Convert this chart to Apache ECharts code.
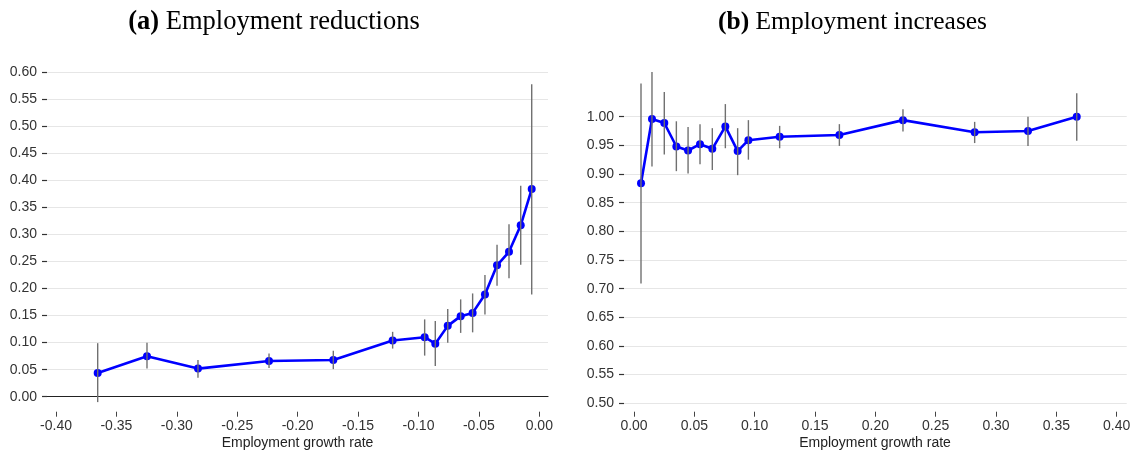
<!DOCTYPE html>
<html>
<head>
<meta charset="utf-8">
<script src="https://cdn.jsdelivr.net/npm/echarts@6/dist/echarts.min.js"></script>
<style>
html,body{margin:0;padding:0;background:#fff;}
#chart{width:1135px;height:450px;}
</style>
</head>
<body>
<div id="chart"></div>
<script>
// ---- Panel (a): Employment reductions ----
const redX  = [-0.3655, -0.3247, -0.2825, -0.2237, -0.1705, -0.1214, -0.0949, -0.0861, -0.0758, -0.0651, -0.0552, -0.0450, -0.0350, -0.0251, -0.0154, -0.0063];
const redY  = [0.044, 0.075, 0.052, 0.066, 0.068, 0.104, 0.110, 0.098, 0.131, 0.149, 0.155, 0.189, 0.243, 0.268, 0.317, 0.384];
const redLo = [-0.010, 0.052, 0.035, 0.053, 0.051, 0.089, 0.076, 0.057, 0.100, 0.118, 0.119, 0.152, 0.205, 0.219, 0.244, 0.189];
const redHi = [0.099, 0.100, 0.068, 0.080, 0.085, 0.120, 0.143, 0.140, 0.162, 0.180, 0.191, 0.225, 0.281, 0.319, 0.390, 0.578];

// ---- Panel (b): Employment increases ----
const incX  = [0.0058, 0.0149, 0.0251, 0.0351, 0.0448, 0.0547, 0.0649, 0.0757, 0.0859, 0.0948, 0.1207, 0.1702, 0.2229, 0.2823, 0.3265, 0.3669];
const incY  = [0.884, 0.996, 0.989, 0.948, 0.941, 0.952, 0.944, 0.983, 0.940, 0.959, 0.965, 0.968, 0.994, 0.973, 0.975, 1.000];
const incLo = [0.709, 0.913, 0.934, 0.905, 0.901, 0.917, 0.907, 0.945, 0.898, 0.925, 0.945, 0.949, 0.974, 0.954, 0.949, 0.958];
const incHi = [1.058, 1.078, 1.043, 0.992, 0.982, 0.987, 0.980, 1.022, 0.980, 0.994, 0.984, 0.987, 1.013, 0.991, 1.000, 1.041];

// tick labels
const redTicks = ['-0.40','-0.35','-0.30','-0.25','-0.20','-0.15','-0.10','-0.05','0.00'];
const incTicks = ['0.00','0.05','0.10','0.15','0.20','0.25','0.30','0.35','0.40'];

const SANS = '"Liberation Sans", Arial, Helvetica, sans-serif';
const SERIF = '"Liberation Serif", "Times New Roman", serif';
const labelColor = '#333';
const gridColor = '#e6e6e6';

function pairs(xs, ys){ return xs.map((x,i)=>[x, ys[i]]); }
function errData(xs, lo, hi){ return xs.map((x,i)=>[x, lo[i], hi[i]]); }

function errSeries(xi, yi, data){
  return {
    type: 'custom', xAxisIndex: xi, yAxisIndex: yi, clip: false, z: 5,
    data: data,
    encode: {x: 0, y: [1,2]},
    renderItem: function(params, api){
      const a = api.coord([api.value(0), api.value(1)]);
      const b = api.coord([api.value(0), api.value(2)]);
      return {type:'line', shape:{x1:a[0], y1:a[1], x2:b[0], y2:b[1]},
              style:{stroke:'#707070', lineWidth:1.4}};
    }
  };
}
function lineSeries(xi, yi, data){
  return {
    type: 'line', xAxisIndex: xi, yAxisIndex: yi, clip: false, z: 3,
    data: data, symbol: 'circle', symbolSize: 8, showSymbol: true,
    lineStyle: {color:'#0000ff', width: 2.6},
    itemStyle: {color:'#0000ff'},
    animation: false
  };
}

const chart = echarts.init(document.getElementById('chart'), null, {renderer:'canvas'});

const tickAxisLabel = (list, lo) => ({
  show: true, color: labelColor, fontFamily: SANS, fontSize: 14, margin: 7,
  formatter: v => { const i = Math.round((v - lo)/0.05); return list[i] !== undefined ? list[i] : ''; }
});

const titleStyle = (size) => ({fontFamily: SERIF, fontSize: size, fontWeight: 'normal', color: '#000',
  rich: {b: {fontFamily: SERIF, fontSize: size, fontWeight: 'bold', color: '#000'}}});

const option = {
  animation: false,
  backgroundColor: '#fff',
  title: [
    {text: '{b|(a)} Employment reductions', left: 269, top: 4, textAlign: 'center', textStyle: titleStyle(26.5)},
    {text: '{b|(b)} Employment increases', left: 847.5, top: 4, textAlign: 'center', textStyle: titleStyle(25.5)}
  ],
  grid: [
    {left: 47, width: 501, top: 72.3, height: 324.4},
    {left: 56, width: 483.3, top: 72.3, height: 324.4},
    {left: 624, width: 502.7, top: 116.7, height: 286.6},
    {left: 634, width: 482.7, top: 116.7, height: 286.6}
  ],
  xAxis: [
    {type:'value', gridIndex:0, min:-0.40745, max:0.00718,
     axisLine:{show:true, onZero:false, lineStyle:{color:'#222', width:1.2}},
     axisTick:{show:false}, axisLabel:{show:false}, splitLine:{show:false}},
    {type:'value', gridIndex:1, min:-0.40, max:0, interval:0.05, offset:15,
     axisLine:{show:false, onZero:false}, axisTick:{show:true, length:5, lineStyle:{color:'#444', width:1}},
     axisLabel: tickAxisLabel(redTicks, -0.40), splitLine:{show:false}},
    {type:'value', gridIndex:2, min:-0.00829, max:0.4083,
     axisLine:{show:false, onZero:false}, axisTick:{show:false}, axisLabel:{show:false}, splitLine:{show:false}},
    {type:'value', gridIndex:3, min:0, max:0.40, interval:0.05, offset:8.4,
     axisLine:{show:false, onZero:false}, axisTick:{show:true, length:5, lineStyle:{color:'#444', width:1}},
     axisLabel: tickAxisLabel(incTicks, 0), splitLine:{show:false}}
  ],
  yAxis: [
    {type:'value', gridIndex:0, min:0, max:0.60, interval:0.05, position:'left',
     axisLine:{show:false, onZero:false}, axisTick:{show:true, length:5, lineStyle:{color:'#333', width:1.2}},
     axisLabel:{color:labelColor, fontFamily:SANS, fontSize:14, margin:10, formatter: v => v.toFixed(2)},
     splitLine:{show:true, lineStyle:{color:gridColor, width:1.2}}},
    {type:'value', gridIndex:1, min:0, max:0.60, show:false, axisLine:{onZero:false}},
    {type:'value', gridIndex:2, min:0.50, max:1.00, interval:0.05, position:'left',
     axisLine:{show:false, onZero:false}, axisTick:{show:true, length:5, lineStyle:{color:'#333', width:1.2}},
     axisLabel:{color:labelColor, fontFamily:SANS, fontSize:14, margin:10, formatter: v => v.toFixed(2)},
     splitLine:{show:true, lineStyle:{color:gridColor, width:1.2}}},
    {type:'value', gridIndex:3, min:0.50, max:1.00, show:false, axisLine:{onZero:false}}
  ],
  graphic: [
    {type:'text', style:{text:'Employment growth rate', x:297.5, y:442.7, align:'center', verticalAlign:'middle', font:'14px ' + SANS, fill:'#222'}},
    {type:'text', style:{text:'Employment growth rate', x:875, y:442.7, align:'center', verticalAlign:'middle', font:'14px ' + SANS, fill:'#222'}}
  ],
  series: [
    lineSeries(0, 0, pairs(redX, redY)),
    errSeries(0, 0, errData(redX, redLo, redHi)),
    lineSeries(2, 2, pairs(incX, incY)),
    errSeries(2, 2, errData(incX, incLo, incHi))
  ]
};
chart.setOption(option);
</script>
</body>
</html>
